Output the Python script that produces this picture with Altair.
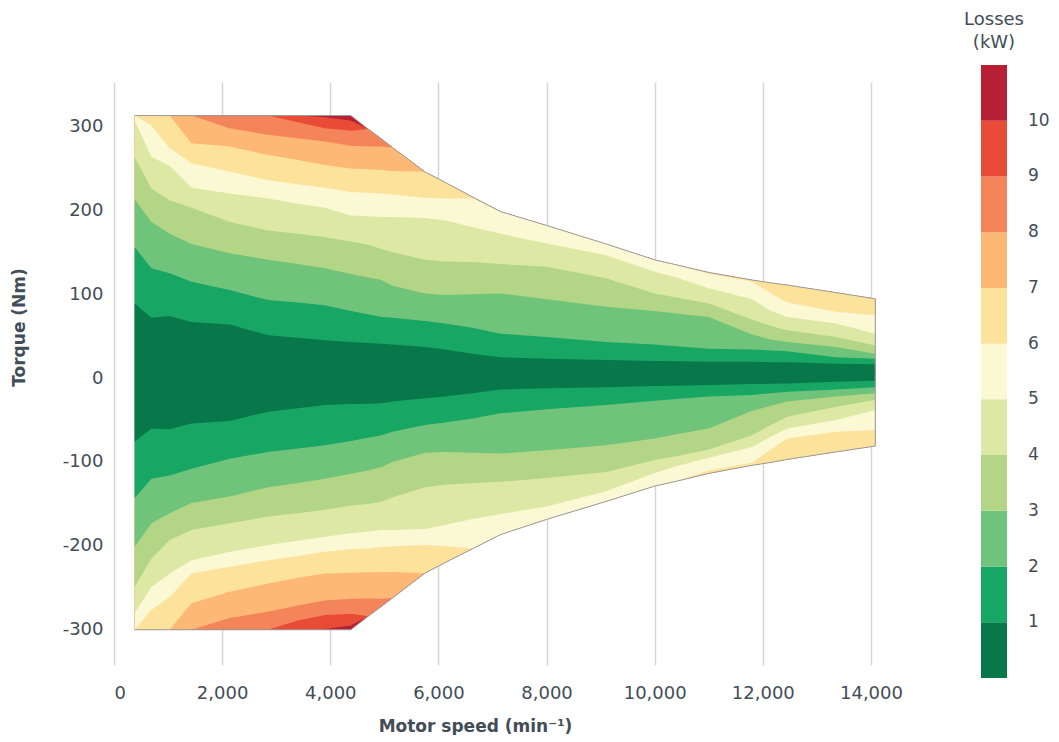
import altair as alt
import pandas as pd

# Motor speed sample points (min^-1)
SPEED = [383, 692, 1030, 1432, 2140, 2850, 3400, 3900, 4380, 4700, 4950, 5150, 5750,
         6120, 6630, 7150, 8000, 9100, 10000, 10400, 11000, 11800, 12150, 12450, 13350, 14080]

# Operating envelope (max / min torque, Nm)
ENV_UP = [313, 313, 313, 313, 313, 313, 313, 313, 313, 297, 285, 275, 246,
          233.5, 216, 198.5, 182, 160, 141, 135, 126, 117, 113.5, 111, 102, 94.5]
ENV_LO = [-300, -300, -300, -300, -300, -300, -300, -300, -300, -284, -272, -262, -232.5,
          -220, -203.5, -186.5, -168.4, -147, -128.7, -123, -113.6, -104, -100.5, -97, -88, -81]

# Iso-loss contours, motoring side (None = contour lies outside the envelope)
UP_1 = [89, 72, 74, 67, 64, 51, 48, 45, 43, 42, 41, 40, 37,
        34, 29, 25, 23, 21.5, 20.5, 20, 19.5, 19.5, 19, 19, 17, 16.5]
UP_2 = [156, 131, 125, 115, 105, 93, 90, 87, 80, 76, 73, 72, 68,
        65, 60, 53, 49, 43, 40, 38, 35, 34, 33, 32, 25, 23]
UP_3 = [213, 186, 172, 160, 149, 141, 136, 131, 124, 120, 117, 110, 101,
        99, 100, 101, 94, 85, 80, 77, 73, 52, 46, 43, 37, 29]
UP_4 = [263, 226, 212, 203, 186, 176, 172, 168, 163, 159, 154, 150, 141,
        139, 138.5, 136, 132.7, 119, 101, 96, 89, 70, 62, 57, 49, 39]
UP_5 = [307, 264, 253, 227, 220, 214, 208, 203, 194, 193, 192, 192, 191,
        188, 180, 172, 160.5, 146.6, 126.7, 120, 107, 94, 80, 73, 65, 53]
UP_6 = [None, 301, 274, 256, 246, 236, 231, 227, 222, 221, 220, 219, 215,
        214, 214, None, None, None, None, 135, 124.5, 115, 101, 90, 79, 75]
UP_7 = [None, None, None, 280, 276, 266, 260, 254, 250, 249, 248, 247, None,
        None, None, None, None, None, None, None, None, None, None, None, None, None]
UP_8 = [None, None, None, None, 298, 290, 286, 282, 277, 276, 276, None, None,
        None, None, None, None, None, None, None, None, None, None, None, None, None]
UP_9 = [None, None, None, None, None, None, 305, 298, 295, None, None, None, None,
        None, None, None, None, None, None, None, None, None, None, None, None, None]
UP_10 = [None, None, None, None, None, None, None, 311, 307, None, None, None, None,
         None, None, None, None, None, None, None, None, None, None, None, None, None]

# Iso-loss contours, generating side
LO_1 = [-76, -60, -61, -54, -51, -40, -36, -32, -31, -30.5, -30, -28, -24,
        -22, -18, -13.5, -12, -11, -9.5, -9, -8.3, -7, -6.8, -6.4, -4.4, -3.2]
LO_2 = [-143, -120, -116, -108, -96, -88, -84, -80, -75, -71, -68, -64, -56,
        -53, -48, -42, -37, -32, -27, -25, -22, -20, -18, -16.3, -13.5, -11]
LO_3 = [-201, -173, -161, -149, -141, -130, -125, -120, -114, -110, -106, -100, -89,
        -88, -89, -90, -86, -80, -72, -67, -60, -39, -33, -28, -22, -18]
LO_4 = [-249, -215, -193, -181, -173, -165, -161, -157, -152, -150, -147, -142, -130,
        -127, -125, -123.6, -119, -112, -97.7, -93, -85, -68, -56, -46, -34, -26]
LO_5 = [-280, -249, -233, -217, -207, -199, -194, -189, -185, -183, -181, -181, -180,
        -175, -168, -162, -153, -135, -113, -105, -95, -82, -70, -60, -50, -38]
LO_6 = [None, -276.5, -261, -233, -225, -217, -212, -207, -204, -203, -201, -200.5, -199,
        -200, -203, None, None, None, None, None, -110, -101, -85, -72, -64, -62]
LO_7 = [None, None, None, -268.5, -254.7, -244.7, -238, -233, -232, -231.5, -231, -231, None,
        None, None, None, None, None, None, None, None, None, None, None, None, None]
LO_8 = [None, None, None, None, -286, -278.5, -271, -265, -263, -262.6, -263, None, None,
        None, None, None, None, None, None, None, None, None, None, None, None, None]
LO_9 = [None, None, None, None, None, None, -289, -282.5, -281, None, None, None, None,
        None, None, None, None, None, None, None, None, None, None, None, None, None]
LO_10 = [None, None, None, None, None, None, None, -299, -295, None, None, None, None,
         None, None, None, None, None, None, None, None, None, None, None, None, None]

UP = [UP_1, UP_2, UP_3, UP_4, UP_5, UP_6, UP_7, UP_8, UP_9, UP_10]
LO = [LO_1, LO_2, LO_3, LO_4, LO_5, LO_6, LO_7, LO_8, LO_9, LO_10]

LEVELS = [1, 2, 3, 4, 5, 6, 7, 8, 9, 10]
COLORS = ["#08784a", "#18a664", "#70c37b", "#b2d685", "#dce8a3", "#fbf8d4",
          "#fde29c", "#fcb874", "#f4845a", "#e84c36", "#b81e34"]
X_TICKS = [0, 2000, 4000, 6000, 8000, 10000, 12000, 14000]
Y_TICKS = [-300, -200, -100, 0, 100, 200, 300]

TEXT = "#434d57"
FONT = "DejaVu Sans"


def clip_up(v, e):
    return e if v is None else min(v, e)


def clip_lo(v, e):
    return e if v is None else max(v, e)


x_enc = alt.X("speed:Q",
              scale=alt.Scale(domain=[0, 14500], nice=False, zero=False),
              axis=alt.Axis(values=X_TICKS, format=",d", grid=True, gridColor="#d5d5d5",
                            gridWidth=1.5, domain=False, ticks=False, tickSize=0,
                            labelPadding=19, labelFontSize=18, labelColor=TEXT,
                            labelFont=FONT,
                            title="Motor speed (min⁻¹)", titleFont=FONT,
                            titleFontSize=17, titleFontWeight="bold", titleColor=TEXT,
                            titleX=361, titleY=61, titleBaseline="middle"))
y_scale = alt.Scale(domain=[-342, 353], nice=False, zero=False)
y_axis = alt.Axis(values=Y_TICKS, grid=False, domain=False, ticks=False, tickSize=0,
                  labelExpr="'' + datum.value",
                  labelPadding=11, labelFontSize=18, labelColor=TEXT, labelFont=FONT,
                  title="Torque (Nm)", titleFont=FONT, titleFontSize=17,
                  titleFontWeight="bold", titleColor=TEXT, titleX=-95, titleY=245,
                  titleBaseline="middle", titleAngle=270)

color_enc = alt.Color("val:Q",
                      scale=alt.Scale(type="threshold", domain=LEVELS, range=COLORS),
                      legend=alt.Legend(type="gradient", orient="none", legendX=867,
                                        legendY=-17, title=None, direction="vertical",
                                        gradientLength=613, gradientThickness=26,
                                        gradientStrokeWidth=0, padding=0,
                                        labelFontSize=17, labelColor=TEXT, labelFont=FONT,
                                        labelOffset=21, labelOverlap=False))

layers = []
# base: whole envelope (losses above 10 kW)
base_df = pd.DataFrame({"speed": SPEED, "lo": ENV_LO, "hi": ENV_UP, "val": 10.5})
layers.append(alt.Chart(base_df).mark_area(interpolate="linear").encode(
    x=x_enc, y=alt.Y("lo:Q", scale=y_scale, axis=y_axis), y2="hi:Q", color=color_enc))

# regions with losses below each level, largest first
for k in range(10, 0, -1):
    up = [clip_up(v, e) for v, e in zip(UP[k - 1], ENV_UP)]
    lo = [clip_lo(v, e) for v, e in zip(LO[k - 1], ENV_LO)]
    df = pd.DataFrame({"speed": SPEED, "lo": lo, "hi": up, "val": k - 0.5})
    layers.append(alt.Chart(df).mark_area(interpolate="linear").encode(
        x=x_enc, y=alt.Y("lo:Q", scale=y_scale, axis=y_axis), y2="hi:Q",
        color=color_enc))

# envelope outline
out_speed = SPEED + SPEED[::-1]
out_torque = ENV_UP + ENV_LO[::-1]
out_df = pd.DataFrame({"speed": out_speed, "lo": out_torque,
                       "i": list(range(len(out_speed)))})
layers.append(alt.Chart(out_df).mark_line(color="#9c9c9c", strokeWidth=1).encode(
    x=x_enc, y=alt.Y("lo:Q", scale=y_scale, axis=y_axis), order="i:Q"))

# legend title
one = pd.DataFrame({"a": [0]})
layers.append(alt.Chart(one).mark_text(text="Losses", font=FONT, fontSize=18,
                                       color=TEXT, align="center", baseline="middle")
              .encode(x=alt.value(880), y=alt.value(-62)))
layers.append(alt.Chart(one).mark_text(text="(kW)", font=FONT, fontSize=18,
                                       color=TEXT, align="center", baseline="middle")
              .encode(x=alt.value(880), y=alt.value(-39)))

chart = alt.layer(*layers).properties(
    width=784, height=583,
    autosize=alt.AutoSizeParams(type="none"),
    padding={"left": 106, "top": 74, "right": 153, "bottom": 70},
    background="white",
).configure_view(strokeWidth=0)

chart.save("out.html", embed_options={"renderer": "svg", "actions": False})
